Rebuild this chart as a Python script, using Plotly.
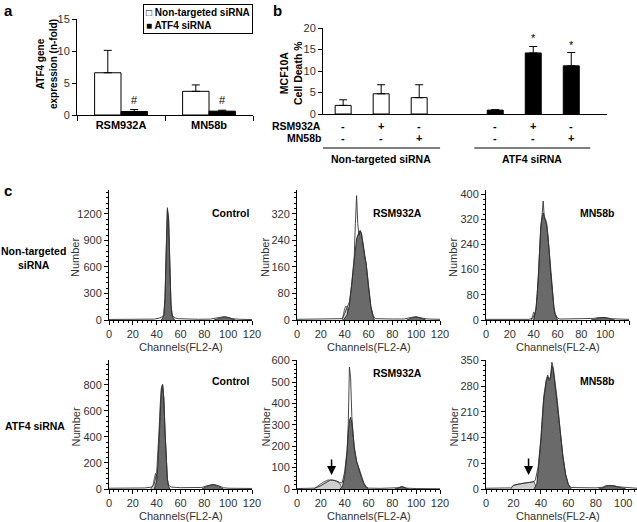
import plotly.graph_objects as go

W, H = 637, 522
FONT = "Arial, Liberation Sans, sans-serif"

# ---------------- Panel a data ----------------
a_cats = ["RSM932A", "MN58b"]
a_nt = [6.6, 3.7]
a_nt_err = [3.5, 1.0]
a_atf = [0.55, 0.6]
a_atf_err = [0.3, 0.15]
a_yticks = [0, 5, 10, 15]

# ---------------- Panel b data ----------------
b_pos = [0, 1, 2, 4, 5, 6]
b_vals = [2.0, 4.7, 3.8, 0.9, 14.2, 11.2]
b_err = [1.3, 2.1, 3.0, 0.1, 1.5, 3.1]
b_group = ["nt", "nt", "nt", "atf", "atf", "atf"]
b_rsm = ["-", "+", "-", "-", "+", "-"]
b_mn = ["-", "-", "+", "-", "-", "+"]
b_star = ["", "", "", "", "*", "*"]
b_groups = ["Non-targeted siRNA", "ATF4 siRNA"]
b_yticks = [0, 5, 10, 15, 20]

# ---------------- Panel c data (channel, count) ----------------
# Non-targeted siRNA / Control
h1_ch = [0, 10, 20, 30, 38, 42, 44, 46, 47, 48, 49, 50, 51, 52, 53, 55, 58, 65, 75, 85, 90, 94, 97, 100, 104, 110, 120]
h1_n = [6, 6, 6, 8, 10, 20, 30, 60, 250, 800, 1270, 1150, 650, 180, 55, 25, 15, 10, 8, 10, 18, 32, 38, 30, 14, 8, 5]
h1_g1_ch = [44, 46, 47, 48, 49, 50, 51, 52, 53, 55]
h1_g1 = [0, 50, 240, 780, 1240, 1150, 640, 170, 45, 0]
h1_sub_ch = []
h1_sub = []
h1_g2_ch = [88, 92, 95, 97, 100, 103, 106]
h1_g2 = [0, 18, 30, 35, 28, 12, 0]

# Non-targeted siRNA / RSM932A
h2_ch = [0, 20, 35, 38, 40, 42, 44, 46, 48, 49, 50, 51, 52, 53, 54, 55, 56, 57, 58, 59, 60, 62, 64, 66, 80, 90, 96, 100, 104, 110, 120]
h2_n = [2, 2, 2, 4, 20, 40, 55, 110, 190, 290, 375, 290, 255, 268, 262, 240, 205, 185, 172, 140, 90, 40, 12, 4, 3, 3, 8, 10, 6, 3, 2]
h2_g1_ch = [39, 42, 44, 46, 48, 50, 52, 53, 54, 56, 57, 58, 60, 62, 64, 65]
h2_g1 = [0, 15, 45, 110, 190, 245, 265, 270, 262, 215, 190, 170, 100, 40, 10, 0]
h2_sub_ch = [38, 39, 40, 41, 42, 43, 44]
h2_sub = [0, 20, 35, 42, 38, 20, 0]
h2_g2_ch = [92, 96, 100, 104, 108]
h2_g2 = [0, 6, 9, 6, 0]

# Non-targeted siRNA / MN58b
h3_ch = [0, 20, 36, 39, 41, 42, 43, 44, 45, 46, 47, 48, 49, 50, 51, 52, 53, 54, 55, 56, 57, 58, 60, 62, 80, 90, 95, 100, 105, 120]
h3_n = [2, 2, 2, 5, 20, 40, 80, 150, 250, 300, 330, 378, 322, 320, 305, 270, 220, 160, 110, 70, 40, 20, 6, 3, 3, 5, 8, 8, 4, 2]
h3_g1_ch = [40, 42, 44, 45, 46, 47, 48, 49, 50, 51, 52, 53, 54, 55, 56, 57, 58, 60]
h3_g1 = [0, 35, 140, 240, 295, 325, 340, 330, 318, 300, 268, 218, 160, 110, 70, 40, 18, 0]
h3_sub_ch = [38, 39, 40, 41, 42]
h3_sub = [0, 12, 25, 18, 0]
h3_g2_ch = [88, 93, 98, 103, 108]
h3_g2 = [0, 5, 8, 5, 0]

# ATF4 siRNA / Control
h4_ch = [0, 20, 30, 36, 38, 40, 41, 42, 43, 44, 45, 46, 47, 48, 49, 50, 52, 60, 70, 78, 82, 86, 88, 92, 96, 100, 120]
h4_n = [6, 6, 8, 15, 40, 120, 250, 450, 650, 780, 805, 700, 450, 200, 80, 30, 15, 10, 8, 12, 25, 35, 35, 25, 10, 6, 4]
h4_g1_ch = [38, 40, 41, 42, 43, 44, 45, 46, 47, 48, 49, 50, 51]
h4_g1 = [0, 60, 180, 400, 620, 770, 800, 700, 450, 200, 70, 20, 0]
h4_sub_ch = [35, 37, 38, 39, 40, 41, 42]
h4_sub = [0, 30, 80, 120, 100, 50, 0]
h4_g2_ch = [78, 82, 86, 88, 92, 96]
h4_g2 = [0, 20, 32, 33, 20, 0]

# ATF4 siRNA / RSM932A
h5_ch = [0, 10, 15, 20, 24, 28, 32, 35, 37, 38, 40, 42, 43, 44, 45, 46, 47, 48, 50, 52, 54, 56, 58, 60, 70, 80, 85, 88, 92, 100, 120]
h5_n = [2, 2, 4, 15, 30, 42, 40, 32, 28, 30, 80, 180, 300, 570, 520, 340, 260, 190, 130, 95, 60, 30, 10, 4, 3, 3, 6, 12, 4, 2, 1]
h5_g1_ch = [36, 38, 40, 42, 43, 44, 45, 46, 47, 48, 50, 52, 54, 56, 58, 60]
h5_g1 = [0, 10, 60, 170, 260, 320, 335, 310, 260, 200, 130, 90, 55, 25, 8, 0]
h5_sub_ch = [14, 18, 22, 26, 30, 33, 36, 38]
h5_sub = [0, 15, 32, 42, 42, 36, 25, 0]
h5_g2_ch = [82, 85, 88, 91, 94]
h5_g2 = [0, 5, 10, 5, 0]

# ATF4 siRNA / MN58b
h6_ch = [0, 10, 18, 20, 24, 28, 32, 35, 36, 38, 40, 42, 44, 45, 46, 47, 48, 49, 50, 52, 54, 56, 58, 60, 62, 70, 80, 85, 88, 90, 93, 96, 100, 105, 110]
h6_n = [2, 2, 3, 10, 14, 16, 18, 20, 25, 60, 140, 250, 300, 310, 295, 300, 345, 330, 300, 240, 160, 90, 40, 12, 4, 3, 3, 5, 10, 8, 9, 6, 5, 3, 2]
h6_g1_ch = [35, 37, 38, 40, 42, 44, 45, 46, 47, 48, 49, 50, 52, 54, 56, 58, 60, 62]
h6_g1 = [0, 15, 50, 130, 240, 295, 305, 300, 305, 335, 325, 295, 235, 160, 90, 40, 12, 0]
h6_sub_ch = [18, 20, 24, 28, 32, 35, 37]
h6_sub = [0, 10, 14, 16, 18, 20, 0]
h6_g2_ch = [82, 86, 90, 94, 98, 102]
h6_g2 = [0, 6, 10, 8, 5, 0]

hist_titles = ["Control", "RSM932A", "MN58b", "Control", "RSM932A", "MN58b"]
hist_ymax = [1470, 392, 413, 992, 603, 351]
hist_ydt = [300, 80, 80, 200, 100, 70]
hist_xmax = [120, 120, 120, 120, 120, 110]
row_labels = ["Non-targeted<br>siRNA", "ATF4 siRNA"]
x_title = "Channels(FL2-A)"
y_title = "Number"


# ---------------- helpers ----------------
def px_x(p):
    return p / W


def px_y(p):
    return 1 - p / H


fig = go.Figure()
ann = []
shapes = []
layout = {}

# ---------------- Panel a ----------------
fig.add_trace(go.Bar(x=a_cats, y=a_nt, name="Non-targeted siRNA", xaxis="x", yaxis="y",
                     marker=dict(color="white", line=dict(color="black", width=1)),
                     error_y=dict(type="data", symmetric=False, array=a_nt_err, arrayminus=[0] * len(a_nt),
                                  color="black", thickness=1, width=4),
                     showlegend=False))
fig.add_trace(go.Bar(x=a_cats, y=a_atf, name="ATF4 siRNA", xaxis="x", yaxis="y",
                     marker=dict(color="black", line=dict(color="black", width=1)),
                     error_y=dict(type="data", symmetric=False, array=a_atf_err, arrayminus=[0] * len(a_atf),
                                  color="black", thickness=1, width=4),
                     showlegend=False))
for i, c in enumerate(a_cats):
    ann.append(dict(x=i + 0.15, y=a_atf[i] + a_atf_err[i], xref="x", yref="y", text="#", showarrow=False,
                    yanchor="bottom", yshift=2, font=dict(size=11, color="black")))

layout["xaxis"] = dict(domain=[px_x(77), px_x(253)], anchor="y", type="category", range=[-0.5, 1.5],
                       tickson="boundaries", ticks="outside", ticklen=5, tickcolor="black",
                       showline=True, linecolor="black", linewidth=1, showgrid=False, zeroline=False,
                       tickvals=a_cats, ticktext=["<b>%s</b>" % c for c in a_cats],
                       tickfont=dict(size=11, color="black"), automargin=False)
layout["yaxis"] = dict(domain=[px_y(115), px_y(19)], anchor="x", range=[0, 15], tickvals=a_yticks,
                       ticks="outside", ticklen=4, tickcolor="black", showline=True, linecolor="black",
                       linewidth=1, showgrid=False, zeroline=False, tickfont=dict(size=11, color="#333"),
                       automargin=False)
ann.append(dict(x=px_x(47), y=px_y(64), xref="paper", yref="paper", text="<b>ATF4 gene<br>expression (n-fold)</b>",
                textangle=-90, showarrow=False, font=dict(size=10, color="black")))
ann.append(dict(x=px_x(253), y=px_y(4), xref="paper", yref="paper", xanchor="right", yanchor="top",
                text="<b>□ Non-targeted siRNA<br>■ ATF4 siRNA</b>", align="left", showarrow=False,
                bordercolor="black", borderwidth=1, borderpad=2, bgcolor="white",
                font=dict(size=10, color="black")))
ann.append(dict(x=px_x(2), y=px_y(0), xref="paper", yref="paper", xanchor="left", yanchor="top",
                text="<b>a</b>", showarrow=False, font=dict(size=15, color="black")))

# ---------------- Panel b ----------------
fig.add_trace(go.Bar(x=b_pos, y=b_vals, xaxis="x2", yaxis="y2", width=0.42,
                     marker=dict(color=["white" if g == "nt" else "black" for g in b_group],
                                 line=dict(color="black", width=1)),
                     error_y=dict(type="data", symmetric=False, array=b_err, arrayminus=[0] * len(b_err),
                                  color="black", thickness=1, width=4),
                     showlegend=False))
layout["xaxis2"] = dict(domain=[px_x(323), px_x(607)], anchor="y2", range=[-0.53, 6.94], showticklabels=False,
                        ticks="", showline=True, linecolor="black", linewidth=1, showgrid=False, zeroline=False,
                        automargin=False)
layout["yaxis2"] = dict(domain=[px_y(114), px_y(28)], anchor="x2", range=[0, 20], tickvals=b_yticks,
                        ticks="outside", ticklen=4, tickcolor="black", showline=True, linecolor="black",
                        linewidth=1, showgrid=False, zeroline=False, tickfont=dict(size=11, color="#333"),
                        automargin=False)
for i, p in enumerate(b_pos):
    if b_star[i]:
        ann.append(dict(x=p, y=b_vals[i] + b_err[i], xref="x2", yref="y2", text=b_star[i], showarrow=False,
                        yanchor="bottom", yshift=0, font=dict(size=11, color="black")))
    ann.append(dict(x=p, y=px_y(126), xref="x2", yref="paper", text="<b>%s</b>" % b_rsm[i], showarrow=False,
                    font=dict(size=11, color="black")))
    ann.append(dict(x=p, y=px_y(138), xref="x2", yref="paper", text="<b>%s</b>" % b_mn[i], showarrow=False,
                    font=dict(size=11, color="black")))
ann.append(dict(x=px_x(323), y=px_y(126), xref="paper", yref="paper", xanchor="right", text="<b>RSM932A</b>",
                showarrow=False, font=dict(size=10.5, color="black")))
ann.append(dict(x=px_x(323), y=px_y(138), xref="paper", yref="paper", xanchor="right", text="<b>MN58b</b>",
                showarrow=False, font=dict(size=10.5, color="black")))
for gname, (x0, x1) in zip(b_groups, [(-0.55, 2.55), (3.45, 6.5)]):
    shapes.append(dict(type="line", xref="x2", yref="paper", x0=x0, x1=x1, y0=px_y(148), y1=px_y(148),
                       line=dict(color="black", width=1)))
    ann.append(dict(x=(x0 + x1) / 2, y=px_y(159), xref="x2", yref="paper", text="<b>%s</b>" % gname,
                    showarrow=False, font=dict(size=10.5, color="black")))
ann.append(dict(x=px_x(291), y=px_y(73), xref="paper", yref="paper", text="<b>MCF10A<br>Cell Death %</b>",
                textangle=-90, showarrow=False, font=dict(size=10.5, color="black")))
ann.append(dict(x=px_x(271), y=px_y(0), xref="paper", yref="paper", xanchor="left", yanchor="top",
                text="<b>b</b>", showarrow=False, font=dict(size=15, color="black")))

# ---------------- Panel c ----------------
hist_data = [
    (h1_ch, h1_n, h1_g1_ch, h1_g1, h1_sub_ch, h1_sub, h1_g2_ch, h1_g2),
    (h2_ch, h2_n, h2_g1_ch, h2_g1, h2_sub_ch, h2_sub, h2_g2_ch, h2_g2),
    (h3_ch, h3_n, h3_g1_ch, h3_g1, h3_sub_ch, h3_sub, h3_g2_ch, h3_g2),
    (h4_ch, h4_n, h4_g1_ch, h4_g1, h4_sub_ch, h4_sub, h4_g2_ch, h4_g2),
    (h5_ch, h5_n, h5_g1_ch, h5_g1, h5_sub_ch, h5_sub, h5_g2_ch, h5_g2),
    (h6_ch, h6_n, h6_g1_ch, h6_g1, h6_sub_ch, h6_sub, h6_g2_ch, h6_g2),
]
col_px = [(109, 252), (297, 440), (486, 629)]
row_px = [(190, 320), (360, 489)]
ytitle_x = [75, 265, 453]
title_x = [230, 397, 597]
title_y = [[213, 213, 213], [381, 373, 381]]
DARK = "#6a6a6a"
LIGHT = "#cfcfcf"

for k in range(6):
    r, c = divmod(k, 3)
    idx = k + 3
    xa, ya = "x%d" % idx, "y%d" % idx
    ch, n, g1c, g1, sc, s, g2c, g2 = hist_data[k]
    x0p, x1p = col_px[c]
    if k == 5:
        x1p = W
    y0p, y1p = row_px[r]
    if sc:
        fig.add_trace(go.Scatter(x=sc, y=s, xaxis=xa, yaxis=ya, mode="lines", fill="tozeroy", fillcolor=LIGHT,
                                 line=dict(color="#444", width=0.8), showlegend=False, hoverinfo="skip"))
    fig.add_trace(go.Scatter(x=g1c, y=g1, xaxis=xa, yaxis=ya, mode="lines", fill="tozeroy", fillcolor=DARK,
                             line=dict(color="#222", width=0.9), showlegend=False, hoverinfo="skip"))
    fig.add_trace(go.Scatter(x=g2c, y=g2, xaxis=xa, yaxis=ya, mode="lines", fill="tozeroy", fillcolor=DARK,
                             line=dict(color="#222", width=0.8), showlegend=False, hoverinfo="skip"))
    fig.add_trace(go.Scatter(x=ch, y=n, xaxis=xa, yaxis=ya, mode="lines", line=dict(color="#333", width=0.9),
                             showlegend=False, hoverinfo="skip"))
    layout["xaxis%d" % idx] = dict(domain=[px_x(x0p), px_x(x1p)], anchor=ya, range=[0, hist_xmax[k]],
                                   tick0=0, dtick=20, ticks="outside", ticklen=4, tickcolor="black",
                                   minor=dict(dtick=4, ticks="outside", ticklen=2, tickcolor="black"),
                                   showline=True, linecolor="black", linewidth=1, showgrid=False,
                                   zeroline=False, tickfont=dict(size=11, color="#333"), automargin=False)
    layout["yaxis%d" % idx] = dict(domain=[px_y(y1p), px_y(y0p)], anchor=xa, range=[0, hist_ymax[k]],
                                   tick0=0, dtick=hist_ydt[k], ticks="outside", ticklen=4, tickcolor="black",
                                   minor=dict(dtick=hist_ydt[k] / 5, ticks="outside", ticklen=2,
                                              tickcolor="black"),
                                   showline=True, linecolor="black", linewidth=1, showgrid=False,
                                   zeroline=False, tickfont=dict(size=11, color="#333"), automargin=False)
    ann.append(dict(x=(px_x(col_px[c][0]) + px_x(col_px[c][1])) / 2, y=px_y(y1p + 27), xref="paper",
                    yref="paper", text=x_title, showarrow=False, font=dict(size=11, color="#333")))
    ann.append(dict(x=px_x(ytitle_x[c]), y=px_y((y0p + y1p) / 2 + 3), xref="paper", yref="paper", text=y_title,
                    textangle=-90, showarrow=False, font=dict(size=11, color="#333")))
    ann.append(dict(x=px_x(title_x[c]), y=px_y(title_y[r][c]), xref="paper", yref="paper",
                    text="<b>%s</b>" % hist_titles[k], showarrow=False, font=dict(size=10.5, color="black")))

# arrows marking sub-G1 population
ann.append(dict(x=29, y=65, xref="x7", yref="y7", ax=0, ay=-17, text="",
                showarrow=True, arrowhead=2, arrowsize=1.2, arrowwidth=1.5, arrowcolor="black"))
ann.append(dict(x=31, y=38, xref="x8", yref="y8", ax=0, ay=-18, text="",
                showarrow=True, arrowhead=2, arrowsize=1.2, arrowwidth=1.5, arrowcolor="black"))

ann.append(dict(x=px_x(33), y=px_y(258), xref="paper", yref="paper", text="<b>%s</b>" % row_labels[0],
                showarrow=False, font=dict(size=10.5, color="black")))
ann.append(dict(x=px_x(35), y=px_y(426), xref="paper", yref="paper", text="<b>%s</b>" % row_labels[1],
                showarrow=False, font=dict(size=10.5, color="black")))
ann.append(dict(x=px_x(2), y=px_y(180), xref="paper", yref="paper", xanchor="left", yanchor="top",
                text="<b>c</b>", showarrow=False, font=dict(size=15, color="black")))

for a in ann:
    a.setdefault("xanchor", "center")
    a.setdefault("yanchor", "middle")

fig.update_layout(
    width=W, height=H, autosize=False,
    margin=dict(l=0, r=0, t=0, b=0),
    paper_bgcolor="white", plot_bgcolor="white",
    font=dict(family=FONT, size=11, color="black"),
    barmode="group", bargap=0.4, bargroupgap=0,
    annotations=ann, shapes=shapes, showlegend=False,
    **layout,
)

fig.write_html("out.html", config={"displayModeBar": False},
               post_script="document.body.style.margin='0';")
